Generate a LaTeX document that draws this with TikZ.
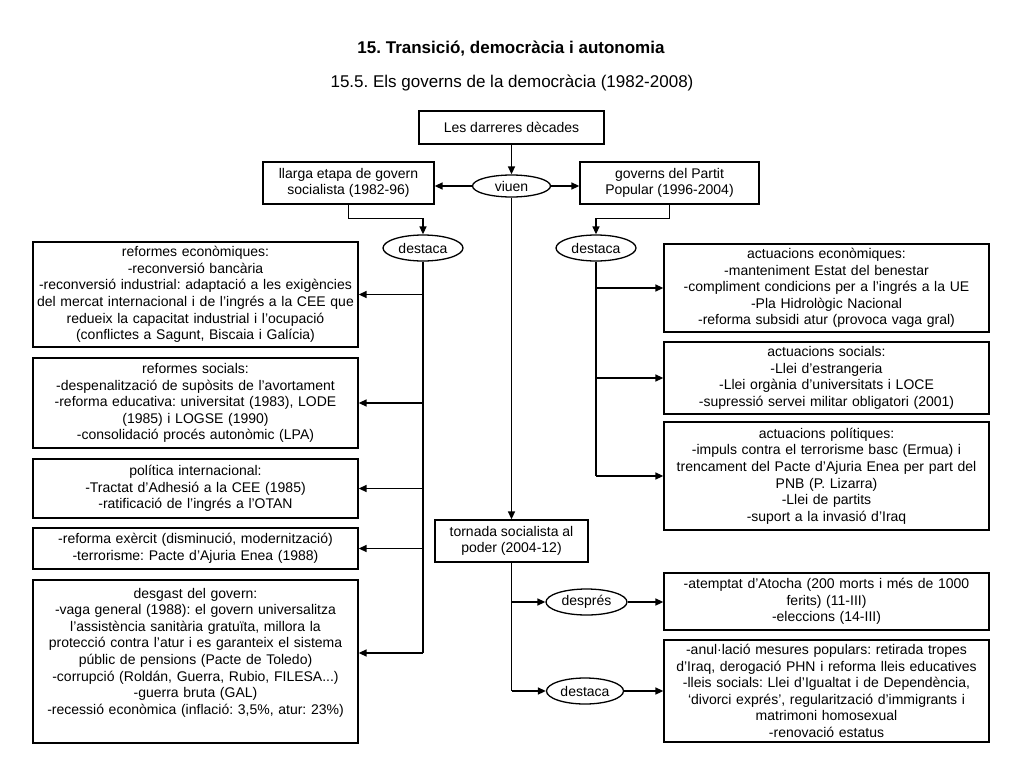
\documentclass[tikz,border=0pt]{standalone}
\usepackage{fontspec}
\setmainfont{Liberation Sans}
\usetikzlibrary{shapes.geometric,arrows.meta}
\frenchspacing

\begin{document}
\begin{tikzpicture}[x=1pt, y=-1pt,
  box/.style={draw, line width=1.3pt, align=center, inner sep=1pt, font=\fontsize{14}{16.6}\selectfont},
  wbox/.style={box, text width=323pt},
  oval/.style={draw, ellipse, line width=1.3pt, inner sep=0pt, minimum width=80pt, minimum height=26pt, font=\fontsize{14}{16.6}\selectfont},
  link/.style={line width=1.5pt},
  arr/.style={link, -{Triangle[length=8pt,width=7pt]}},
]

%page
\fill[white] (0,0) rectangle (1024,768);
\useasboundingbox (0,0) rectangle (1024,768);

%titles
\node[anchor=base, font=\fontsize{17}{20}\selectfont\bfseries] (title) at (511,53) {15. Transició, democràcia i autonomia};
\node[anchor=base, font=\fontsize{17}{20}\selectfont] (subtitle) at (512,87) {15.5. Els governs de la democràcia (1982-2008)};

%top
\node[box, minimum width=185pt, minimum height=33pt] (darreres) at (511.5,127.5) {Les darreres dècades};
\node[box, minimum width=171pt, minimum height=42pt] (llarga) at (348.5,183) {llarga etapa de govern\\socialista (1982-96)};
\node[box, minimum width=179pt, minimum height=42pt] (pp) at (669.5,183) {governs del Partit\\Popular (1996-2004)};
\node[oval, minimum width=78pt, minimum height=22pt] (viuen) at (511.5,186) {viuen};

\node[oval] (destL) at (423,248) {destaca};
\node[oval] (destR) at (596,248) {destaca};

%socialist government
\node[wbox, minimum height=105pt] (econ) at (195.5,294.5) {reformes econòmiques:\\-reconversió bancària\\-reconversió industrial: adaptació a les exigències\\del mercat internacional i de l’ingrés a la CEE que\\redueix la capacitat industrial i l’ocupació\\(conflictes a Sagunt, Biscaia i Galícia)};
\node[wbox, minimum height=90pt] (socials) at (195.5,403) {reformes socials:\\-despenalització de supòsits de l’avortament\\-reforma educativa: universitat (1983), LODE\\(1985) i LOGSE (1990)\\-consolidació procés autonòmic (LPA)};
\node[wbox, minimum height=59pt] (intern) at (195.5,488.5) {política internacional:\\-Tractat d'Adhesió a la CEE (1985)\\-ratificació de l'ingrés a l'OTAN};
\node[wbox, minimum height=41pt] (exercit) at (195.5,548.5) {-reforma exèrcit (disminució, modernització)\\-terrorisme: Pacte d'Ajuria Enea (1988)};
\node[wbox, minimum height=163pt] (desgast) at (195.5,661.5) {desgast del govern:\\-vaga general (1988): el govern universalitza\\l’assistència sanitària gratuïta, millora la\\protecció contra l’atur i es garanteix el sistema\\públic de pensions (Pacte de Toledo)\\-corrupció (Roldán, Guerra, Rubio, FILESA...)\\-guerra bruta (GAL)\\-recessió econòmica (inflació: 3,5\%, atur: 23\%)\\[4pt]\mbox{}};

%popular government
\node[wbox, minimum height=88pt] (aeco) at (826.5,288) {actuacions econòmiques:\\-manteniment Estat del benestar\\-compliment condicions per a l’ingrés a la UE\\-Pla Hidrològic Nacional\\-reforma subsidi atur (provoca vaga gral)};
\node[wbox, minimum height=72pt] (asoc) at (826.5,378) {actuacions socials:\\-Llei d’estrangeria\\-Llei orgània d’universitats i LOCE\\-supressió servei militar obligatori (2001)};
\node[wbox, minimum height=108pt] (apol) at (826.5,476) {actuacions polítiques:\\-impuls contra el terrorisme basc (Ermua) i\\trencament del Pacte d’Ajuria Enea per part del\\PNB (P. Lizarra)\\-Llei de partits\\-suport a la invasió d’Iraq};

%return
\node[box, minimum width=153pt, minimum height=42pt] (tornada) at (511.5,541) {tornada socialista al\\poder (2004-12)};
\node[oval, minimum width=81pt] (despres) at (586.5,602) {després};
\node[oval, minimum width=77pt] (destB) at (585,691) {destaca};
\node[wbox, minimum height=57pt] (atocha) at (826.5,601.5) {-atemptat d’Atocha (200 morts i més de 1000\\ferits) (11-III)\\-eleccions (14-III)};
\node[wbox, minimum height=102pt] (anul) at (826.5,691) {-anul·lació mesures populars: retirada tropes\\d’Iraq, derogació PHN i reforma lleis educatives\\-lleis socials: Llei d’Igualtat i de Dependència,\\‘divorci exprés’, regularització d’immigrants i\\matrimoni homosexual\\-renovació estatus};

%connectors
\draw[arr] (darreres.south) -- (viuen.north);
\draw[arr] (viuen.west) -- (viuen.west -| llarga.east);
\draw[arr] (viuen.east) -- (viuen.east -| pp.west);
\draw[arr] (llarga.south) -- ++(0,14) -| (destL.north);
\draw[arr] (pp.south) -- ++(0,14) -| (destR.north);

\coordinate (endL) at (423,653);
\draw[link] (destL.south) -- (endL);
\foreach \b in {econ,socials,intern,exercit}
  \draw[arr] (destL.south |- \b.east) -- (\b.east);
\draw[arr] (endL) -- (endL -| desgast.east);

\draw[link] (destR.south) -- (destR.south |- apol.west);
\foreach \b in {aeco,asoc,apol}
  \draw[arr] (destR.south |- \b.west) -- (\b.west);

\draw[arr] (viuen.south) -- (tornada.north);
\draw[link] (tornada.south) -- (tornada.south |- destB.west);
\draw[arr] (tornada.south |- despres.west) -- (despres.west);
\draw[arr] (tornada.south |- destB.west) -- (destB.west);
\draw[arr] (despres.east) -- (despres.east -| atocha.west);
\draw[arr] (destB.east) -- (destB.east -| anul.west);

\end{tikzpicture}
\end{document}
